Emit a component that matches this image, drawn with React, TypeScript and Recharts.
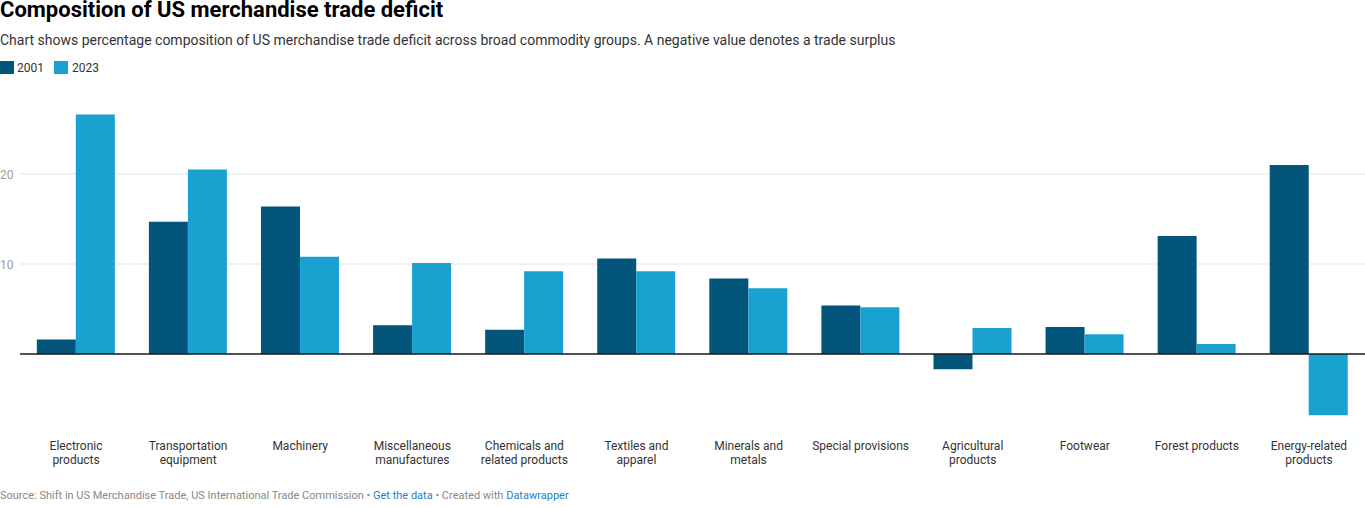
import React from "react";
import { BarChart, Bar, XAxis, YAxis, ReferenceLine, CartesianGrid } from "recharts";

const categories = [
  "Electronic products",
  "Transportation equipment",
  "Machinery",
  "Miscellaneous manufactures",
  "Chemicals and related products",
  "Textiles and apparel",
  "Minerals and metals",
  "Special provisions",
  "Agricultural products",
  "Footwear",
  "Forest products",
  "Energy-related products",
];

const tickLabels: string[][] = [
  ["Electronic", "products"],
  ["Transportation", "equipment"],
  ["Machinery"],
  ["Miscellaneous", "manufactures"],
  ["Chemicals and", "related products"],
  ["Textiles and", "apparel"],
  ["Minerals and", "metals"],
  ["Special provisions"],
  ["Agricultural", "products"],
  ["Footwear"],
  ["Forest products"],
  ["Energy-related", "products"],
];

const values2001 = [1.6, 14.7, 16.4, 3.2, 2.7, 10.6, 8.4, 5.4, -1.7, 3.0, 13.1, 21.0];
const values2023 = [26.6, 20.5, 10.8, 10.1, 9.2, 9.2, 7.3, 5.2, 2.9, 2.2, 1.1, -6.8];

const yTicks = [10, 20];

const data = categories.map((c, i) => ({
  name: c,
  y2001: values2001[i],
  y2023: values2023[i],
}));

const FONT = "Roboto, 'Noto Sans', sans-serif";
const DARK = "#03557b";
const LIGHT = "#19a2cf";

const XTick = (props: any) => {
  const { x, y, payload } = props;
  const i = categories.indexOf(payload.value);
  const lines = tickLabels[i] || [payload.value];
  return (
    <g>
      {lines.map((l, k) => (
        <text
          key={k}
          x={x}
          y={y + 16 + k * 14}
          textAnchor="middle"
          fontSize={12}
          fontFamily={FONT}
          fill="#333333"
        >
          {l}
        </text>
      ))}
    </g>
  );
};

const YTick = (props: any) => {
  const { y, payload } = props;
  return (
    <text x={0} y={y + 5} textAnchor="start" fontSize={12} fontFamily={FONT} fill="#9a9a9a">
      {payload.value}
    </text>
  );
};

export default function App() {
  return (
    <div style={{ position: "absolute", left: 0, top: 0, width: 1365, height: 507, background: "#fff", fontFamily: FONT }}>
      <svg width={1365} height={507} style={{ position: "absolute", left: 0, top: 0 }}>
        <text x={0} y={17} fontSize={22} fontWeight={700} fontFamily={FONT} fill="#000">
          Composition of US merchandise trade deficit
        </text>
        <text x={0} y={45} fontSize={14} fontFamily={FONT} fill="#333">
          Chart shows percentage composition of US merchandise trade deficit across broad commodity groups. A negative value denotes a trade surplus
        </text>
        <rect x={0} y={61} width={14} height={13} fill={DARK} />
        <text x={17} y={72} fontSize={12} fontFamily={FONT} fill="#333">2001</text>
        <rect x={54} y={61} width={14} height={13} fill={LIGHT} />
        <text x={72} y={72} fontSize={12} fontFamily={FONT} fill="#333">2023</text>
        <text x={0} y={499} fontSize={11} fontFamily={FONT} fill="#888">
          Source: Shift in US Merchandise Trade, US International Trade Commission •{" "}
          <tspan fill="#1d81c2">Get the data</tspan> • Created with <tspan fill="#1d81c2">Datawrapper</tspan>
        </text>
      </svg>
      <div style={{ position: "absolute", left: 0, top: 0 }}>
        <BarChart
          width={1365}
          height={507}
          data={data}
          margin={{ top: 102, right: 0, bottom: 0, left: 0 }}
          barCategoryGap="15%"
          barGap={0}
        >
          <CartesianGrid vertical={false} horizontalValues={yTicks} stroke="#e3e3e3" />
          <XAxis
            dataKey="name"
            interval={0}
            tickLine={false}
            axisLine={false}
            height={81}
            tick={<XTick />}
          />
          <YAxis
            domain={[-8, 28]}
            ticks={yTicks}
            width={20}
            tickLine={false}
            axisLine={false}
            tick={<YTick />}
            allowDataOverflow
          />
          <Bar dataKey="y2001" fill={DARK} isAnimationActive={false} />
          <Bar dataKey="y2023" fill={LIGHT} isAnimationActive={false} />
          <ReferenceLine y={0} stroke="#1a1a1a" strokeWidth={1.5} />
        </BarChart>
      </div>
    </div>
  );
}
